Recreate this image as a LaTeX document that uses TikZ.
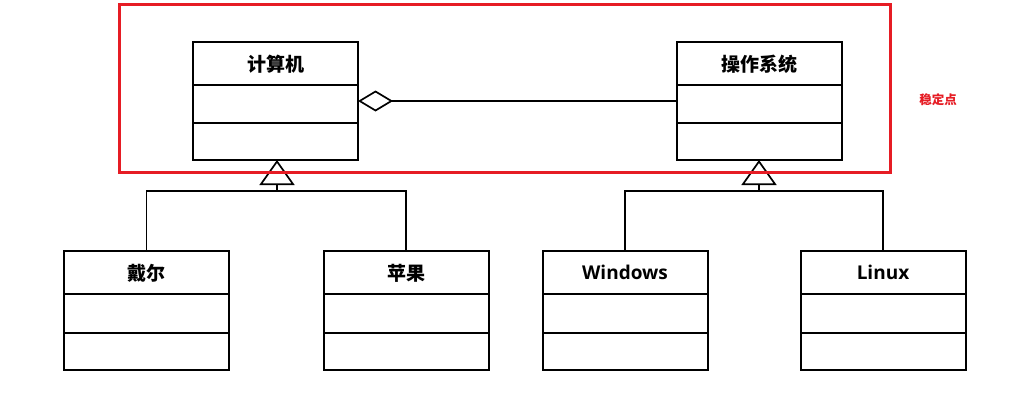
\documentclass[tikz,border=0pt]{standalone}
\usepackage{fontspec}
\setmainfont{Open Sans}
\newfontfamily\cjk{Noto Sans CJK SC}
\usetikzlibrary{arrows.meta, positioning}
\definecolor{markred}{RGB}{230,28,36}
\tikzset{
  classpart/.style={draw, line width=2pt, minimum width=165pt, outer sep=0pt, inner sep=0pt},
  classname/.style={classpart, minimum height=43pt, text depth=0pt, font=\bfseries\fontsize{19}{19}\selectfont},
  inherit/.style={line width=1.7pt, -{Triangle[open, length=25pt, width=35pt]}},
}

\begin{document}
\begin{tikzpicture}[x=1pt, y=-1pt]
\fill[white] (0,0) rectangle (1015,415);
\useasboundingbox (0,0) rectangle (1015,415);

\node[classname] (pc) at (275.5,63.5) {\cjk 计算机};
\node[classpart, minimum height=38pt, below=0pt of pc] (pc-mid) {};
\node[classpart, minimum height=37pt, below=0pt of pc-mid] (pc-low) {};

\node[classname] (os) at (759,63.5) {\cjk 操作系统};
\node[classpart, minimum height=38pt, below=0pt of os] (os-mid) {};
\node[classpart, minimum height=37pt, below=0pt of os-mid] (os-low) {};

\node[classname] (dell) at (146.5,272.5) {\cjk 戴尔};
\node[classpart, minimum height=39pt, below=0pt of dell] (dell-mid) {};
\node[classpart, minimum height=37pt, below=0pt of dell-mid] (dell-low) {};

\node[classname] (apple) at (406,272.5) {\cjk 苹果};
\node[classpart, minimum height=39pt, below=0pt of apple] (apple-mid) {};
\node[classpart, minimum height=37pt, below=0pt of apple-mid] (apple-low) {};

\node[classname] (win) at (625,272.5) {Windows};
\node[classpart, minimum height=39pt, below=0pt of win] (win-mid) {};
\node[classpart, minimum height=37pt, below=0pt of win-mid] (win-low) {};

\node[classname] (linux) at (883,272.5) {Linux};
\node[classpart, minimum height=39pt, below=0pt of linux] (linux-mid) {};
\node[classpart, minimum height=37pt, below=0pt of linux-mid] (linux-low) {};

% aggregation
\draw[line width=1.7pt, {Diamond[open, length=35pt, width=21pt]}-] ([yshift=3pt]pc-mid.east) -- ([yshift=3pt]os-mid.west);

% generalization
\coordinate (pcfork) at (277,191);
\coordinate (osfork) at (759,191);
\draw[line width=1.7pt] (dell.north) |- (pcfork) -| (apple.north);
\draw[inherit] (pcfork) -- (pcfork |- pc-low.south);
\draw[line width=1.7pt] (win.north) |- (osfork) -| (linux.north);
\draw[inherit] (osfork) -- (os-low.south);

% stable part
\draw[markred, line width=3pt] (119,4) rectangle (890,172);
\node[text=markred, font=\cjk\bfseries\fontsize{12.5}{12.5}\selectfont] (stable) at (938,100) {稳定点};
\end{tikzpicture}
\end{document}
